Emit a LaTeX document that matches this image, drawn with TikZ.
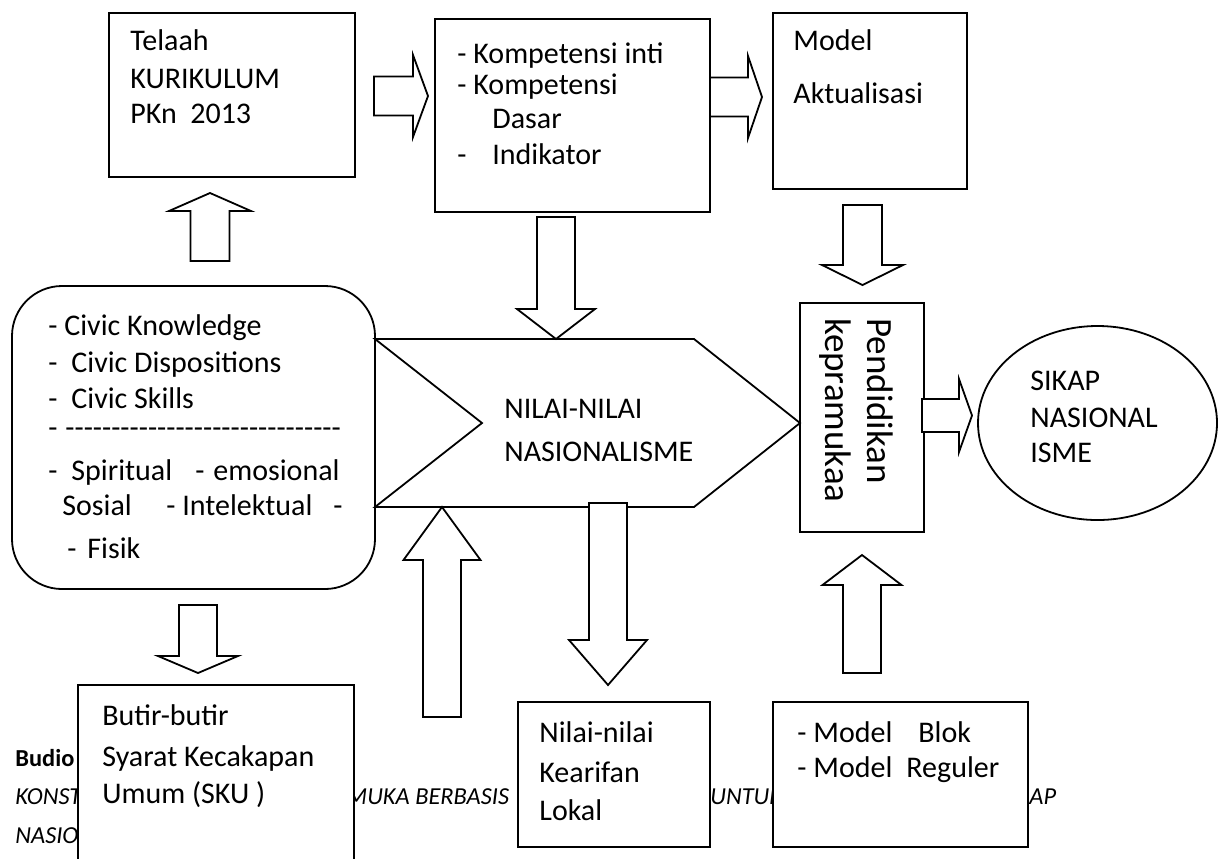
\documentclass[tikz,border=0pt]{standalone}
\usepackage{fontspec}
\setmainfont{Carlito}[Ligatures=TeXOff]
\usetikzlibrary{shapes.geometric}
\tikzset{
 box/.style={draw, fill=white, line width=0.9pt, inner sep=0pt, rectangle},
 barrow/.style={draw, fill=white, line width=0.9pt, line join=miter},
 txt/.style={inner sep=0pt, anchor=base west, font=\fontsize{15}{18}\selectfont},
 bigtxt/.style={inner sep=0pt, anchor=base west, rotate=-90, font=\fontsize{18.5}{22}\selectfont},
 bgb/.style={inner sep=0pt, anchor=base west, font=\bfseries\fontsize{12.2}{14}\selectfont},
 bgi/.style={inner sep=0pt, anchor=base west, font=\itshape\fontsize{12.2}{14}\selectfont},
}
% horizontal block arrow: tail x, head-base x, tip x, centre y, shaft half width, head half width
\newcommand\hblk[6]{\draw[barrow] (#1,{#4-#5}) -- (#2,{#4-#5}) -- (#2,{#4-#6}) -- (#3,#4) -- (#2,{#4+#6}) -- (#2,{#4+#5}) -- (#1,{#4+#5}) -- cycle;}
% vertical block arrow: tail y, head-base y, tip y, centre x, shaft half width, head half width
\newcommand\vblk[6]{\draw[barrow] ({#4-#5},#1) -- ({#4-#5},#2) -- ({#4-#6},#2) -- (#4,#3) -- ({#4+#6},#2) -- ({#4+#5},#2) -- ({#4+#5},#1) -- cycle;}
\begin{document}
\begin{tikzpicture}[x=0.5pt, y=-0.5pt]
\useasboundingbox (0,0) rectangle (1224,858);
\clip (0,0) rectangle (1224,858);
\fill[white] (0,0) rectangle (1224,858);
% background page text (partly hidden by the boxes)
\node[bgb] (bgA) at (15,766) {Budio};
\node[bgi] (bgB) at (15,804) {KONST};
\node[bgi] (bgC) at (346,804) {MUKA BERBASIS};
\node[bgi] (bgD) at (710,804) {UNTUK};
\node[bgi] (bgE) at (1029,804) {AP};
\node[bgi] (bgF) at (15,843) {NASIO};
% boxes
\node[box, minimum width=123pt, minimum height=82pt] (telaah) at (232,95) {};
\node[box, minimum width=137.5pt, minimum height=96.5pt] (komp) at (572.5,115.5) {};
\node[box, minimum width=97pt, minimum height=88pt] (model) at (870,101) {};
\node[box, minimum width=62pt, minimum height=114.5pt] (pend) at (862,417.5) {};
\node[box, rounded corners=25pt, minimum width=181.5pt, minimum height=151.5pt] (civic) at (193.5,437.5) {};
\node[box, minimum width=138pt, minimum height=110pt] (sku) at (216,795) {};
\node[box, minimum width=96pt, minimum height=72.5pt] (nilai) at (614,774.5) {};
\node[box, minimum width=127.5pt, minimum height=72.5pt] (blok) at (900.5,774.5) {};
\node[box, ellipse, minimum width=119.5pt, minimum height=97pt] (sikap) at (1097.5,423) {};
% chevron
\draw[barrow] (375,339) coordinate (chevNW) -- (694,339) -- (800,423) coordinate (chevTip) -- (694,507) -- (375,507) coordinate (chevSW) -- (482,423) coordinate (chevNotch) -- cycle;
% block arrows
\hblk{374}{413}{428}{96}{19.5}{41}
\hblk{710}{748}{762}{97}{19.5}{41}
\hblk{922}{959}{972}{415.5}{16.5}{36.5}
\vblk{205}{265}{285}{862.5}{19.5}{40.5}
\vblk{217}{309}{339}{556}{19}{39}
\vblk{261}{211}{193}{210}{19.5}{41}
\vblk{605}{656}{673}{198}{19}{40}
\vblk{717}{560}{507}{442}{19}{38.5}
\vblk{503}{640}{685}{608}{19}{39}
\vblk{673}{585}{555}{862}{19}{39.5}
% texts: Telaah
\node[txt] (t1) at (130,50) {Telaah};
\node[txt] (t2) at (130,88) {KURIKULUM};
\node[txt] (t3) at (130,123) {PKn\ \ 2013};
% Kompetensi
\node[txt] (k1) at (457,63) {- Kompetensi inti};
\node[txt] (k2) at (457,94) {- Kompetensi};
\node[txt] (k3) at (492,128) {Dasar};
\node[txt] (k4) at (457,164) {-};
\node[txt] (k5) at (492,164) {Indikator};
% Model
\node[txt] (m1) at (793,50) {Model};
\node[txt] (m2) at (793,103) {Aktualisasi};
% Civic
\node[txt] (c1) at (48,335) {- Civic Knowledge};
\node[txt] (c2a) at (48,372) {-};
\node[txt] (c2b) at (71,372) {Civic Dispositions};
\node[txt] (c3a) at (48,408) {-};
\node[txt] (c3b) at (71,408) {Civic Skills};
\node[txt] (c4a) at (48,437) {-};
\node[txt] (c4b) at (65,437) {------------------------------};
\node[txt] (c5a) at (48,480) {-};
\node[txt] (c5b) at (71,480) {Spiritual};
\node[txt] (c5c) at (195,480) {-};
\node[txt] (c5d) at (213,480) {emosional};
\node[txt] (c6a) at (62,515) {Sosial};
\node[txt] (c6b) at (166,515) {- Intelektual};
\node[txt] (c6c) at (333,515) {-};
\node[txt] (c7a) at (67,558) {-};
\node[txt] (c7b) at (87,558) {Fisik};
% chevron text
\node[txt] (n1) at (504,418) {NILAI-NILAI};
\node[txt] (n2) at (504,461) {NASIONALISME};
% Pendidikan
\node[bigtxt] (p1) at (867,318) {Pendidikan};
\node[bigtxt] (p2) at (825,318) {kepramukaa};
% Sikap
\node[txt] (s1) at (1030,390) {SIKAP};
\node[txt] (s2) at (1030,427) {NASIONAL};
\node[txt] (s3) at (1030,462) {ISME};
% SKU
\node[txt] (u1) at (102,725) {Butir-butir};
\node[txt] (u2) at (102,766) {Syarat Kecakapan};
\node[txt] (u3) at (102,803) {Umum (SKU )};
% Nilai
\node[txt] (l1) at (539,742) {Nilai-nilai};
\node[txt] (l2) at (539,782) {Kearifan};
\node[txt] (l3) at (539,820) {Lokal};
% Blok
\node[txt] (o1) at (797,742) {- Model};
\node[txt] (o2) at (918,742) {Blok};
\node[txt] (o3) at (797,777) {- Model};
\node[txt] (o4) at (906,777) {Reguler};
\end{tikzpicture}
\end{document}
